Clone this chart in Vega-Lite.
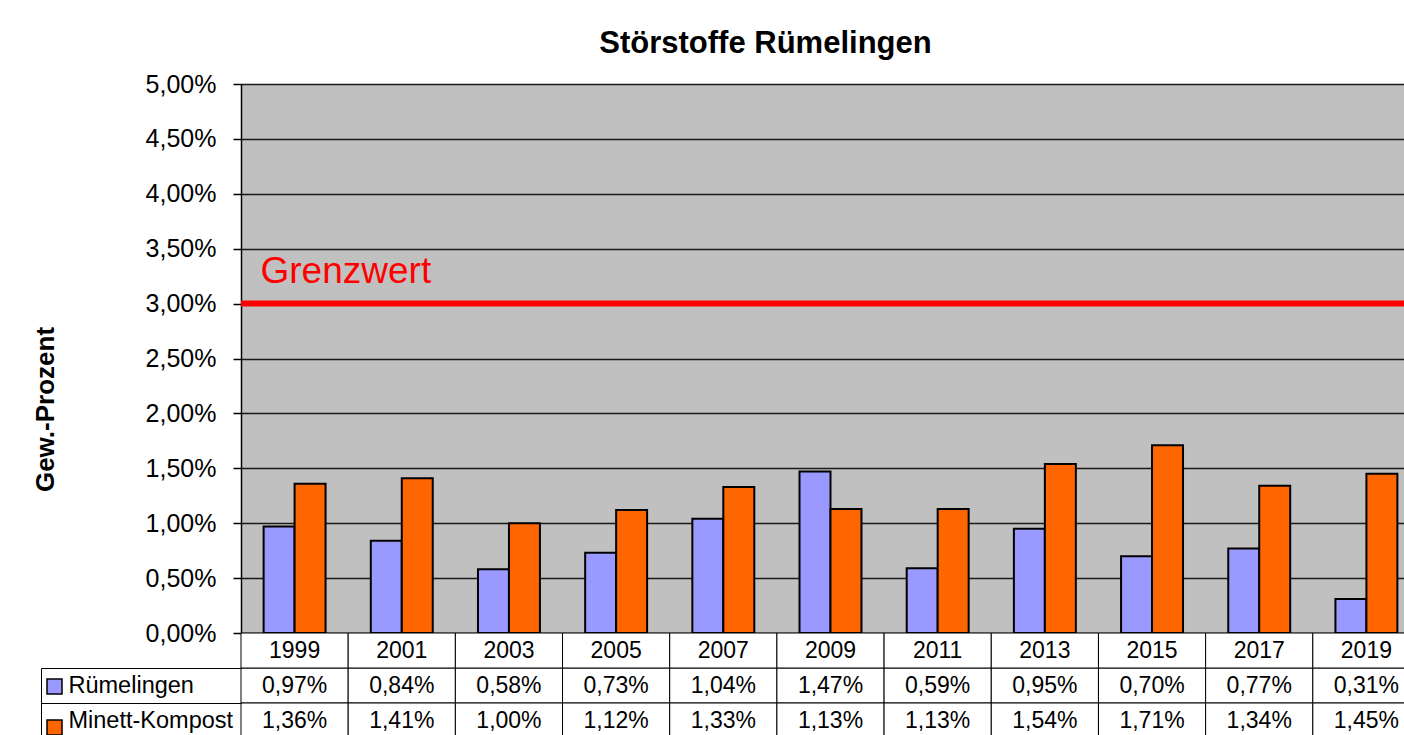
{
  "$schema": "https://vega.github.io/schema/vega-lite/v6.json",
  "width": 1163,
  "height": 651,
  "autosize": {"type": "none"},
  "padding": {"left": 241, "top": 84, "right": 0, "bottom": 0},
  "background": "white",
  "view": {"fill": "#C0C0C0", "stroke": null},
  "config": {
    "font": "Liberation Sans",
    "locale": {"number": {"decimal": ",", "thousands": ".", "grouping": [3], "currency": ["", " €"]}}
  },
  "title": {
    "text": "Störstoffe Rümelingen",
    "font": "Liberation Sans",
    "fontSize": 31,
    "fontWeight": "bold",
    "color": "#000000",
    "anchor": "middle",
    "frame": "group",
    "dx": -57,
    "offset": 12
  },
  "datasets": {
    "table": [
      {"year": "1999", "series": "Rümelingen", "value": 0.0097},
      {"year": "2001", "series": "Rümelingen", "value": 0.0084},
      {"year": "2003", "series": "Rümelingen", "value": 0.0058},
      {"year": "2005", "series": "Rümelingen", "value": 0.0073},
      {"year": "2007", "series": "Rümelingen", "value": 0.0104},
      {"year": "2009", "series": "Rümelingen", "value": 0.0147},
      {"year": "2011", "series": "Rümelingen", "value": 0.0059},
      {"year": "2013", "series": "Rümelingen", "value": 0.0095},
      {"year": "2015", "series": "Rümelingen", "value": 0.0070},
      {"year": "2017", "series": "Rümelingen", "value": 0.0077},
      {"year": "2019", "series": "Rümelingen", "value": 0.0031},
      {"year": "1999", "series": "Minett-Kompost", "value": 0.0136},
      {"year": "2001", "series": "Minett-Kompost", "value": 0.0141},
      {"year": "2003", "series": "Minett-Kompost", "value": 0.0100},
      {"year": "2005", "series": "Minett-Kompost", "value": 0.0112},
      {"year": "2007", "series": "Minett-Kompost", "value": 0.0133},
      {"year": "2009", "series": "Minett-Kompost", "value": 0.0113},
      {"year": "2011", "series": "Minett-Kompost", "value": 0.0113},
      {"year": "2013", "series": "Minett-Kompost", "value": 0.0154},
      {"year": "2015", "series": "Minett-Kompost", "value": 0.0171},
      {"year": "2017", "series": "Minett-Kompost", "value": 0.0134},
      {"year": "2019", "series": "Minett-Kompost", "value": 0.0145}
    ],
    "header": [
      {"year": "1999", "row": "Jahr"}, {"year": "2001", "row": "Jahr"}, {"year": "2003", "row": "Jahr"},
      {"year": "2005", "row": "Jahr"}, {"year": "2007", "row": "Jahr"}, {"year": "2009", "row": "Jahr"},
      {"year": "2011", "row": "Jahr"}, {"year": "2013", "row": "Jahr"}, {"year": "2015", "row": "Jahr"},
      {"year": "2017", "row": "Jahr"}, {"year": "2019", "row": "Jahr"}
    ],
    "limit": [{"label": "Grenzwert", "limit": 0.03}]
  },
  "data": {"name": "table"},
  "layer": [
    {
      "mark": {"type": "bar", "stroke": "#000000", "strokeWidth": 2},
      "encoding": {
        "x": {"field": "year", "type": "nominal", "scale": {"range": [0, 1179], "paddingInner": 0, "paddingOuter": 0}, "axis": null},
        "xOffset": {"field": "series", "type": "nominal", "sort": ["Rümelingen", "Minett-Kompost"], "scale": {"paddingInner": 0, "paddingOuter": 0.73}},
        "y": {
          "field": "value", "type": "quantitative",
          "scale": {"domain": [0, 0.05], "range": [549, 0], "nice": false},
          "axis": {
            "title": "Gew.-Prozent",
            "values": [0, 0.005, 0.01, 0.015, 0.02, 0.025, 0.03, 0.035, 0.04, 0.045, 0.05],
            "format": ".2%",
            "grid": true, "gridColor": "#1a1a1a", "gridWidth": 1.5, "gridOpacity": 1,
            "domainColor": "#000000", "domainWidth": 1.5,
            "tickColor": "#000000", "tickSize": 8, "tickWidth": 1.5,
            "labelFont": "Liberation Sans", "labelFontSize": 25, "labelColor": "#000000", "labelPadding": 17,
            "titleFont": "Liberation Sans", "titleFontSize": 26, "titleFontWeight": "bold", "titleColor": "#000000",
            "titleX": -196, "titleY": 325, "titleAngle": 270, "titleAlign": "center", "titleBaseline": "middle"
          }
        },
        "color": {
          "field": "series", "type": "nominal",
          "scale": {"domain": ["Rümelingen", "Minett-Kompost"], "range": ["#9999FF", "#FF6600"]},
          "legend": {
            "title": null, "orient": "none", "legendX": -195, "legendY": 594, "direction": "vertical",
            "symbolType": "square", "symbolSize": 225, "symbolStrokeColor": "#000000", "symbolStrokeWidth": 1.5,
            "symbolOpacity": 1, "labelExpr": "''", "labelFontSize": 1, "labelOffset": 0, "rowPadding": 20, "padding": 0
          }
        }
      }
    },
    {
      "data": {"name": "limit"},
      "mark": {"type": "rule", "color": "#FF0000", "strokeWidth": 6},
      "encoding": {"y": {"field": "limit", "type": "quantitative", "scale": {"domain": [0, 0.05], "range": [549, 0], "nice": false}, "axis": null}}
    },
    {
      "data": {"name": "limit"},
      "mark": {"type": "text", "align": "left", "baseline": "alphabetic", "dx": -562, "dy": -21, "fontSize": 37, "color": "#FF0000", "font": "Liberation Sans"},
      "encoding": {
        "y": {"field": "limit", "type": "quantitative", "scale": {"domain": [0, 0.05], "range": [549, 0], "nice": false}, "axis": null},
        "text": {"field": "label", "type": "nominal"}
      }
    },
    {
      "mark": {"type": "rect", "fill": "#FFFFFF", "stroke": "#000000", "strokeWidth": 1},
      "encoding": {
        "x": {"field": "year", "type": "nominal", "scale": {"range": [0, 1179], "paddingInner": 0, "paddingOuter": 0}, "axis": null},
        "y": {
          "field": "series", "type": "nominal",
          "scale": {"domain": ["Rümelingen", "Minett-Kompost"], "range": [584, 654], "paddingInner": 0, "paddingOuter": 0},
          "axis": {
            "orient": "left", "tickBand": "extent",
            "tickSize": 200, "tickColor": "#000000", "tickWidth": 1, "domain": false, "grid": false,
            "labelAlign": "left", "labelBaseline": "middle", "labelPadding": -27, "labelFontSize": 23.5,
            "labelColor": "#000000", "labelFont": "Liberation Sans", "title": null
          }
        }
      }
    },
    {
      "mark": {"type": "text", "fontSize": 23, "color": "#000000", "font": "Liberation Sans", "baseline": "middle"},
      "encoding": {
        "x": {"field": "year", "type": "nominal", "scale": {"range": [0, 1179], "paddingInner": 0, "paddingOuter": 0}, "axis": null},
        "y": {
          "field": "series", "type": "nominal",
          "scale": {"domain": ["Rümelingen", "Minett-Kompost"], "range": [584, 654], "paddingInner": 0, "paddingOuter": 0},
          "axis": {"orient": "left", "offset": 200, "domain": true, "domainColor": "#000000", "domainWidth": 1, "ticks": false, "labels": false, "grid": false, "title": null}
        },
        "text": {"field": "value", "type": "quantitative", "format": ".2%"}
      }
    },
    {
      "data": {"name": "header"},
      "mark": {"type": "rect", "fill": "#FFFFFF", "stroke": "#000000", "strokeWidth": 1},
      "encoding": {
        "x": {"field": "year", "type": "nominal", "scale": {"range": [0, 1179], "paddingInner": 0, "paddingOuter": 0}, "axis": null},
        "y": {"field": "row", "type": "nominal", "scale": {"domain": ["Jahr"], "range": [549, 584], "paddingInner": 0, "paddingOuter": 0}, "axis": null}
      }
    },
    {
      "data": {"name": "header"},
      "mark": {"type": "text", "fontSize": 23, "color": "#000000", "font": "Liberation Sans", "baseline": "middle"},
      "encoding": {
        "x": {"field": "year", "type": "nominal", "scale": {"range": [0, 1179], "paddingInner": 0, "paddingOuter": 0}, "axis": null},
        "y": {"field": "row", "type": "nominal", "scale": {"domain": ["Jahr"], "range": [549, 584], "paddingInner": 0, "paddingOuter": 0}, "axis": null},
        "text": {"field": "year", "type": "nominal"}
      }
    }
  ],
  "resolve": {"scale": {"y": "independent"}}
}
